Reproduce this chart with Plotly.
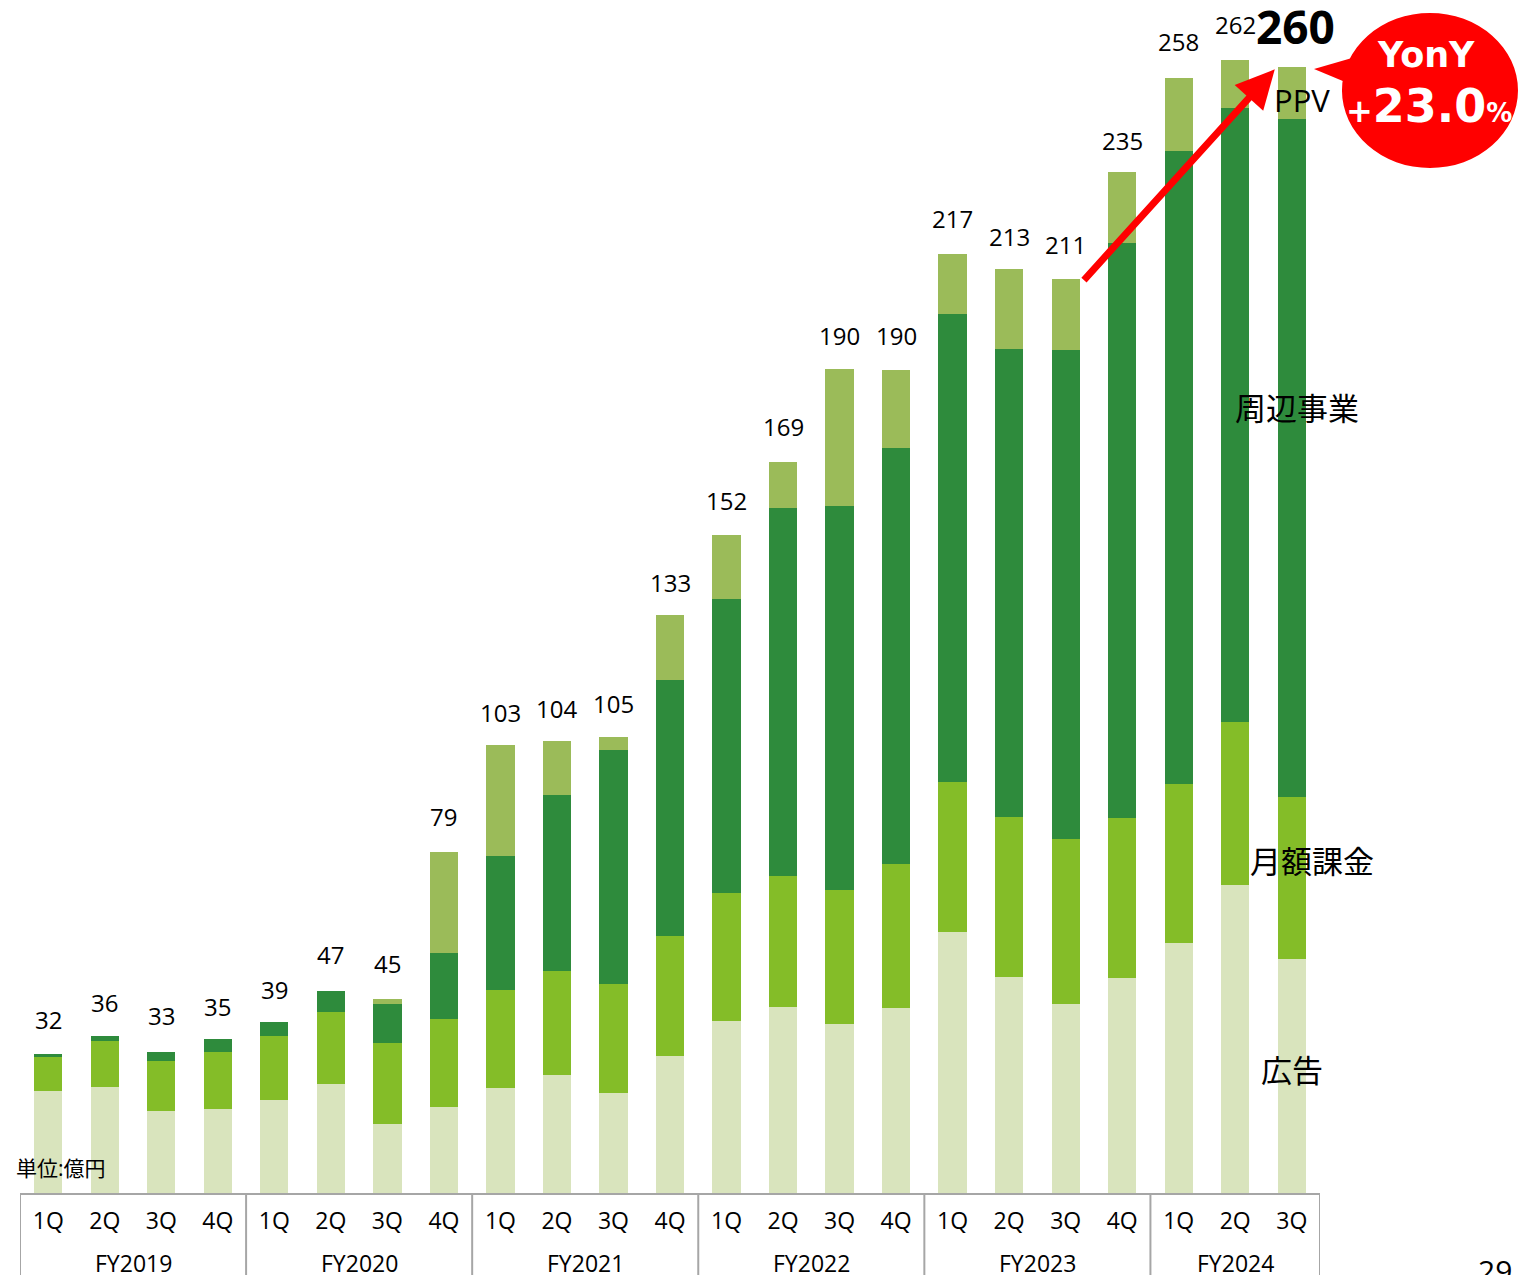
import plotly.graph_objects as go

# data (億円)
fiscal_years = ["FY2019"] * 4 + ["FY2020"] * 4 + ["FY2021"] * 4 + ["FY2022"] * 4 + ["FY2023"] * 4 + ["FY2024"] * 3
quarters = ["1Q", "2Q", "3Q", "4Q"] * 5 + ["1Q", "2Q", "3Q"]

ad = [23.5, 24.5, 18.9, 19.5, 21.5, 25.2, 16.0, 19.9, 24.3, 27.2, 23.0, 31.6,
      39.7, 43.0, 39.1, 42.7, 60.3, 49.9, 43.6, 49.7, 57.7, 71.1, 54.0]
monthly = [7.8, 10.5, 11.5, 13.1, 14.8, 16.6, 18.7, 20.2, 22.6, 24.1, 25.2, 27.8,
           29.6, 30.3, 30.9, 33.3, 34.6, 37.0, 38.1, 37.0, 36.7, 37.6, 37.4]
related = [0.7, 1.2, 2.1, 3.0, 3.3, 4.8, 9.0, 15.3, 30.9, 40.6, 54.0, 59.1,
           67.9, 85.0, 88.7, 96.1, 108.1, 108.1, 112.9, 132.6, 146.3, 141.9, 156.7]
ppv = [0, 0, 0, 0, 0, 0, 1.0, 23.3, 25.6, 12.5, 3.0, 15.0,
       14.8, 10.6, 31.6, 18.0, 13.9, 18.5, 16.6, 16.4, 16.9, 11.0, 11.9]
totals = [32, 36, 33, 35, 39, 47, 45, 79, 103, 104, 105, 133,
          152, 169, 190, 190, 217, 213, 211, 235, 258, 262, 260]

series = [("広告", ad, "#d9e4bd"), ("月額課金", monthly, "#84bd28"),
          ("周辺事業", related, "#2e8b3c"), ("PPV", ppv, "#9bbb59")]

FONT = "Open Sans, Noto Sans CJK JP, sans-serif"
BFONT = "DejaVu Sans, sans-serif"
GRID = "#a6a6a6"

cats = [fy + " " + q for fy, q in zip(fiscal_years, quarters)]

fig = go.Figure()
for name, vals, col in series:
    fig.add_trace(go.Bar(x=cats, y=vals, name=name, marker_color=col, marker_line_width=0))

annotations = []
# totals above bars
for i, t in enumerate(totals):
    last = i == len(totals) - 1
    annotations.append(dict(
        x=cats[i], y=t, xref="x", yref="y", text=("<b>%d</b>" % t) if last else str(t),
        showarrow=False, yanchor="bottom", yshift=8 if last else 16,
        xshift=4 if last else 0,
        font=dict(size=46 if last else 24, color="black", family=FONT)))

# fiscal year labels + group dividers
groups = []
for i, fy in enumerate(fiscal_years):
    if not groups or groups[-1][0] != fy:
        groups.append([fy, i, i])
    else:
        groups[-1][2] = i
shapes = []
for fy, a, b in groups:
    annotations.append(dict(x=(a + b) / 2, y=-0.0597, xref="x", yref="paper", text=fy,
                            showarrow=False, yanchor="middle",
                            font=dict(size=23, color="black", family=FONT)))
    shapes.append(dict(type="line", xref="x", yref="paper", x0=a - 0.5, x1=a - 0.5, y0=0, y1=-0.08,
                       line=dict(color=GRID, width=2)))
shapes.append(dict(type="line", xref="x", yref="paper", x0=groups[-1][2] + 0.5, x1=groups[-1][2] + 0.5,
                   y0=0, y1=-0.08, line=dict(color=GRID, width=2)))

# segment names on the last bar
labels = [("PPV", 252.4, 10, 31), ("周辺事業", 181.3, 5, 31), ("月額課金", 76.7, 20, 31), ("広告", 28.4, 0, 31)]
for txt, yv, xs, sz in labels:
    annotations.append(dict(x=cats[-1], y=yv, xref="x", yref="y", text=txt, showarrow=False,
                            xshift=xs, font=dict(size=sz, color="black", family=FONT)))

# red arrow
annotations.append(dict(x=21.7, y=259.5, ax=18.3, ay=210.5, xref="x", yref="y", axref="x", ayref="y",
                        text="", showarrow=True, arrowhead=2, arrowsize=1.1, arrowwidth=7,
                        arrowcolor="#ff0000"))

# speech bubble
shapes += [
    dict(type="circle", xref="paper", yref="paper", x0=1.0169, x1=1.1523, y0=0.8738, y1=1.006,
         fillcolor="#ff0000", line=dict(width=0)),
    dict(type="path", xref="paper", yref="paper",
         path="M 0.9954 0.9582 L 1.0246 0.9676 L 1.0231 0.9454 Z",
         fillcolor="#ff0000", line=dict(width=0)),
]
annotations.append(dict(x=1.0815, y=0.9702, xref="paper", yref="paper", text="<b>YonY</b>",
                        showarrow=False, xanchor="center", yanchor="middle",
                        font=dict(size=35, color="white", family=BFONT)))
annotations.append(dict(x=1.0835, y=0.9267, xref="paper", yref="paper",
                        text="<b><span style='font-size:32px'>+</span>23.0<span style='font-size:26px'>%</span></b>",
                        showarrow=False, xanchor="center", yanchor="middle",
                        font=dict(size=46, color="white", family=BFONT)))

# unit
annotations.append(dict(x=-0.005, y=0.021, xref="paper", yref="paper", text="単位:億円", showarrow=False,
                        xanchor="left", yanchor="middle", font=dict(size=21, color="black", family=FONT)))
# page number
annotations.append(dict(x=1.1346, y=-0.066, xref="paper", yref="paper", text="29", showarrow=False,
                        xanchor="center", yanchor="middle", font=dict(size=30, color="black", family=FONT)))

fig.update_layout(
    width=1519, height=1275,
    margin=dict(l=20, r=199, t=20, b=82),
    barmode="stack", bargap=0.5,
    plot_bgcolor="white", paper_bgcolor="white",
    showlegend=False,
    font=dict(family=FONT, color="black"),
    annotations=annotations, shapes=shapes,
)
fig.update_xaxes(type="category", range=[-0.5, len(cats) - 0.5], showline=True, linecolor=GRID, linewidth=2,
                 tickvals=cats, ticktext=quarters, ticklabelstandoff=6,
                 tickfont=dict(size=23, color="black", family=FONT), showgrid=False, ticks="")
fig.update_yaxes(range=[0, 270.9], visible=False)

# drop the default 8px page margin so the figure fills the window
fig.write_html("out.html", config={"displayModeBar": False},
               post_script="document.body.style.margin='0px';")
